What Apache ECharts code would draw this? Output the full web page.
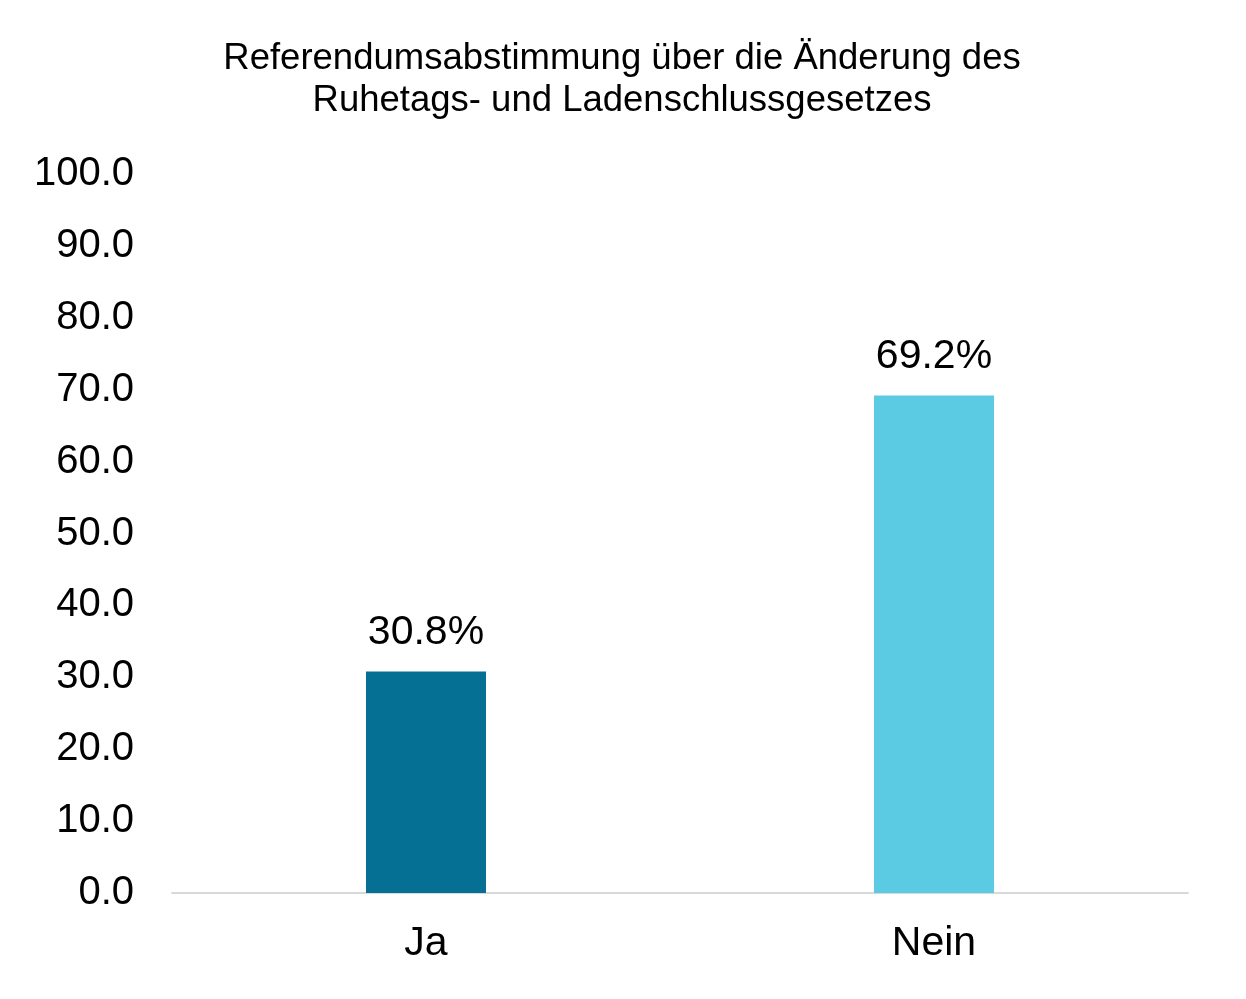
<!DOCTYPE html>
<html>
<head>
<meta charset="utf-8">
<script src="https://cdn.jsdelivr.net/npm/echarts@6/dist/echarts.min.js"></script>
<style>
html, body { margin: 0; padding: 0; background: #fff; }
#chart { width: 1246px; height: 999px; }
</style>
</head>
<body>
<div id="chart"></div>
<script>
var categories = ['Ja', 'Nein'];
var values = [30.8, 69.2];
var barColors = ['#066f94', '#5bcbe3'];

var chart = echarts.init(document.getElementById('chart'));
chart.setOption({
    animation: false,
    title: {
        text: 'Referendumsabstimmung über die Änderung des\nRuhetags- und Ladenschlussgesetzes',
        left: 617,
        top: 33,
        textAlign: 'center',
        textStyle: {
            fontFamily: 'Liberation Sans',
            fontWeight: 'normal',
            fontSize: 36.5,
            lineHeight: 42,
            color: '#000'
        }
    },
    grid: {
        left: 172,
        right: 58,
        top: 174,
        bottom: 106
    },
    xAxis: {
        type: 'category',
        data: categories,
        axisLine: { lineStyle: { color: '#d9d9d9', width: 2 } },
        axisTick: { show: false },
        axisLabel: {
            margin: 30,
            fontFamily: 'Liberation Sans',
            fontSize: 41,
            color: '#000'
        }
    },
    yAxis: {
        type: 'value',
        min: 0,
        max: 100,
        interval: 10,
        splitLine: { show: false },
        axisLine: { show: false },
        axisTick: { show: false },
        axisLabel: {
            margin: 38,
            padding: [4, 0, 0, 0],
            fontFamily: 'Liberation Sans',
            fontSize: 40,
            color: '#000',
            formatter: function (v) { return v.toFixed(1); }
        }
    },
    series: [
        {
            type: 'bar',
            barWidth: 120,
            data: values.map(function (v, i) {
                return { value: v, itemStyle: { color: barColors[i] } };
            }),
            label: {
                show: true,
                position: 'top',
                distance: 18,
                fontFamily: 'Liberation Sans',
                fontSize: 41,
                color: '#000',
                formatter: function (p) { return p.value.toFixed(1) + '%'; }
            }
        }
    ]
});
</script>
</body>
</html>
